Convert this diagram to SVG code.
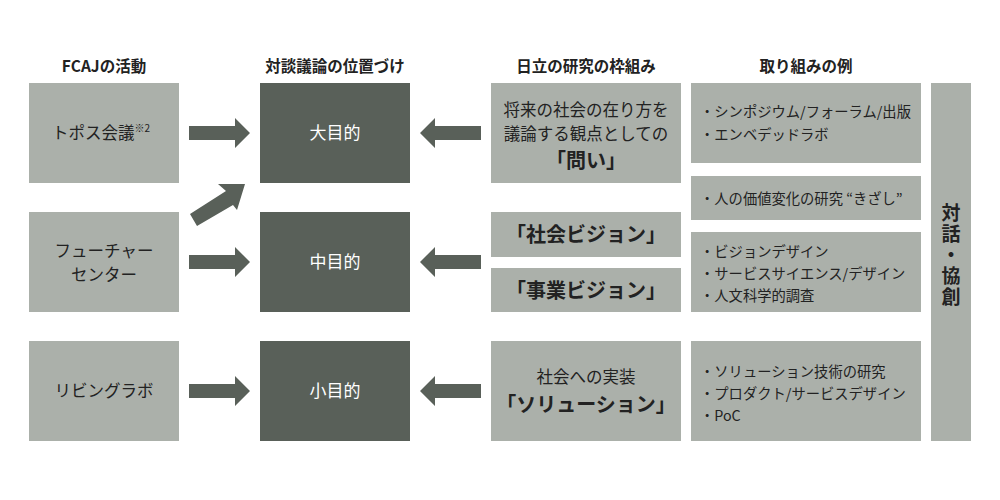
<svg xmlns="http://www.w3.org/2000/svg" width="1000" height="500" viewBox="0 0 1000 500">
<style>
.l{fill:#abb0aa}
.d{fill:#596059}
text{font-family:"Noto Sans CJK JP","Noto Sans",sans-serif;font-size:16.5px;fill:#222;text-anchor:middle}
.h{font-weight:bold;font-size:15.5px}
.w{fill:#fff;font-size:17px}
.b{font-weight:bold;font-size:20px}
.s{text-anchor:start;font-size:14.3px}
.t{font-weight:bold;font-size:19px;writing-mode:vertical-rl;letter-spacing:2px}
.a{fill:#596059}
</style>
<rect width="1000" height="500" fill="#fff"/>
<g id="headers">
<text class="h" x="104" y="72">FCAJの活動</text>
<text class="h" x="335" y="72">対談議論の位置づけ</text>
<text class="h" x="586" y="72">日立の研究の枠組み</text>
<text class="h" x="806" y="72">取り組みの例</text>
</g>
<g id="n-topos"><rect class="l" x="29" y="83" width="150" height="100"/><text x="101" y="139">トポス会議<tspan font-size="10" dy="-7">※2</tspan></text></g>
<g id="n-future"><rect class="l" x="29" y="212" width="150" height="100"/><text x="104" y="257">フューチャー</text><text x="104" y="281">センター</text></g>
<g id="n-living"><rect class="l" x="29" y="341" width="150" height="100"/><text x="104" y="397">リビングラボ</text></g>
<g id="n-big"><rect class="d" x="260" y="83" width="150" height="100"/><text class="w" x="335" y="139">大目的</text></g>
<g id="n-mid"><rect class="d" x="260" y="212" width="150" height="100"/><text class="w" x="335" y="268">中目的</text></g>
<g id="n-small"><rect class="d" x="260" y="341" width="150" height="100"/><text class="w" x="335" y="397">小目的</text></g>
<g id="n-toi"><rect class="l" x="491" y="83" width="190" height="100"/><text x="586" y="116">将来の社会の在り方を</text><text x="586" y="140">議論する観点としての</text><text class="b" x="586" y="168">「問い」</text></g>
<g id="n-social"><rect class="l" x="491" y="212" width="190" height="45"/><text class="b" x="586" y="242">「社会ビジョン」</text></g>
<g id="n-biz"><rect class="l" x="491" y="268" width="190" height="44"/><text class="b" x="586" y="298">「事業ビジョン」</text></g>
<g id="n-sol"><rect class="l" x="491" y="341" width="190" height="100"/><text x="586" y="383">社会への実装</text><text class="b" x="586" y="412">「ソリューション」</text></g>
<g id="n-ex1"><rect class="l" x="691" y="83" width="230" height="80"/><text class="s" x="700" y="117">・シンポジウム/フォーラム/出版</text><text class="s" x="700" y="140">・エンベデッドラボ</text></g>
<g id="n-ex2"><rect class="l" x="691" y="176" width="230" height="44"/><text class="s" x="700" y="204">・人の価値変化の研究 “きざし”</text></g>
<g id="n-ex3"><rect class="l" x="691" y="232" width="230" height="80"/><text class="s" x="700" y="257">・ビジョンデザイン</text><text class="s" x="700" y="279">・サービスサイエンス/デザイン</text><text class="s" x="700" y="301">・人文科学的調査</text></g>
<g id="n-ex4"><rect class="l" x="691" y="341" width="230" height="100"/><text class="s" x="700" y="377">・ソリューション技術の研究</text><text class="s" x="700" y="399">・プロダクト/サービスデザイン</text><text class="s" x="700" y="421">・PoC</text></g>
<g id="n-dialog"><rect class="l" x="931" y="83" width="40" height="358"/><text class="t" x="951" y="256">対話・協創</text></g>
<g id="connectors">
<polygon class="a" points="189,126 235,126 235,118 250,133 235,148 235,140 189,140"/>
<polygon class="a" points="189,255 235,255 235,247 250,262 235,277 235,269 189,269"/>
<polygon class="a" points="189,384 235,384 235,376 250,391 235,406 235,398 189,398"/>
<polygon class="a" points="481,126 435,126 435,118 420,133 435,148 435,140 481,140"/>
<polygon class="a" points="481,255 435,255 435,247 420,262 435,277 435,269 481,269"/>
<polygon class="a" points="481,384 435,384 435,376 420,391 435,406 435,398 481,398"/>
<polygon class="a" points="190,214 197,226 233,205 237,210 245,184 218,184 226,191"/>
</g>
</svg>
